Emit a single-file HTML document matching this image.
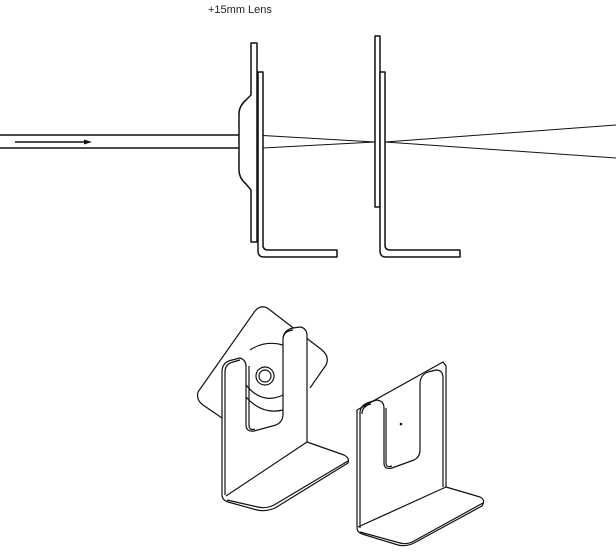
<!DOCTYPE html>
<html><head><meta charset="utf-8"><style>
html,body{margin:0;padding:0;background:#fff;}
svg{display:block;}
text{font-family:"Liberation Sans",Arial,sans-serif;}
</style></head><body>
<svg width="616" height="552" viewBox="0 0 616 552" xmlns="http://www.w3.org/2000/svg">
<text x="208" y="13" font-size="11" fill="#222">+15mm Lens</text>
<g fill="none" stroke="#111" stroke-width="1.5" stroke-linejoin="round">
<!-- beam -->
<line x1="0" y1="135" x2="240" y2="135"/>
<line x1="0" y1="148" x2="240" y2="148"/>
<line x1="15" y1="142" x2="84" y2="142"/>
<polygon points="84,139.5 92,142 84,144.5" fill="#111" stroke="none"/>
<line x1="263" y1="135.5" x2="375" y2="142" stroke-width="1"/>
<line x1="263" y1="148" x2="375" y2="142" stroke-width="1"/>
<line x1="385" y1="142" x2="616" y2="125" stroke-width="1"/>
<line x1="385" y1="142" x2="616" y2="158" stroke-width="1"/>
<!-- lens plate -->
<path d="M251,43 H257 V242 H251 V190 L246,184 Q239,178 239,170 V114 Q239,106 246,100 L251,95 Z" fill="#fff"/>
<!-- bracket 1 -->
<path d="M258,72 H263 V245 Q263,250 268,250 H337 V257 H264 Q258,257 258,251 Z" fill="#fff"/>
<!-- plate 2 -->
<rect x="375" y="36" width="5" height="171" fill="#fff"/>
<path d="M380,72 H385 V245 Q385,250 390,250 H460 V257 H386 Q380,257 380,251 Z" fill="#fff"/>
</g>
<g fill="none" stroke="#111" stroke-width="1.2" stroke-linejoin="round">
<!-- left object: back diamond -->
<path d="M198,392 L255,311 Q262,303 270,310 L322,350 Q330,357 326,365 L310,388" fill="#fff"/>
<path d="M198,392 Q196,400 203,405 L222,418"/>
<circle cx="265" cy="376" r="9"/>
<circle cx="265" cy="376" r="6"/>
<path d="M250,350 Q265,340 283,345"/>
<path d="M246,385 Q262,405 283,395"/>
<path d="M246,397 Q262,415 283,410"/>
<!-- U bracket front -->
<path d="M222,495 V372 Q222,362 232,360 L240,358 Q246,360 246,366 V425 Q246,432 254,431 L276,425 Q283,422 283,414 V340 Q283,330 293,328 L300,327 Q307,328 307,336 V442 L344,455 Q350,458 348,463 L275,508 Q266,512 257,510 L228,502 Q222,500 222,495 Z" fill="#fff"/>
<path d="M225,372 Q225,364 233,362 L240,360"/>
<path d="M225,495 V372"/>
<path d="M283,338 Q284,331 293,330"/>
<path d="M226,496 L307,442"/>
<path d="M227,500 L258,507 Q266,509 274,505 L348,461"/>
<path d="M249,366 V425 Q249,431 255,429"/>
<!-- right object -->
<path d="M357,528 V410 L443,362 L446,366 V487 L480,497 Q486,500 482,506 L414,543 Q406,547 398,545 L362,534 Q357,532 357,528 Z" fill="#fff"/>
<path d="M360,528 V413 Q360,405 370,402 L377,400 Q384,401 384,408 V463 Q384,470 392,468 L414,460 Q420,457 420,450 V384 Q420,375 428,372 L436,370 Q443,370 443,378 V487"/>
<path d="M362,414 Q362,406 371,404"/>
<path d="M386,408 V463 Q386,468 392,466"/>
<path d="M358,527 L446,487"/>
<path d="M360,532 L400,543 Q407,545 414,541 L483,503"/>
<circle cx="401" cy="424" r="0.7" fill="#111"/>
</g>
</svg>
</body></html>
